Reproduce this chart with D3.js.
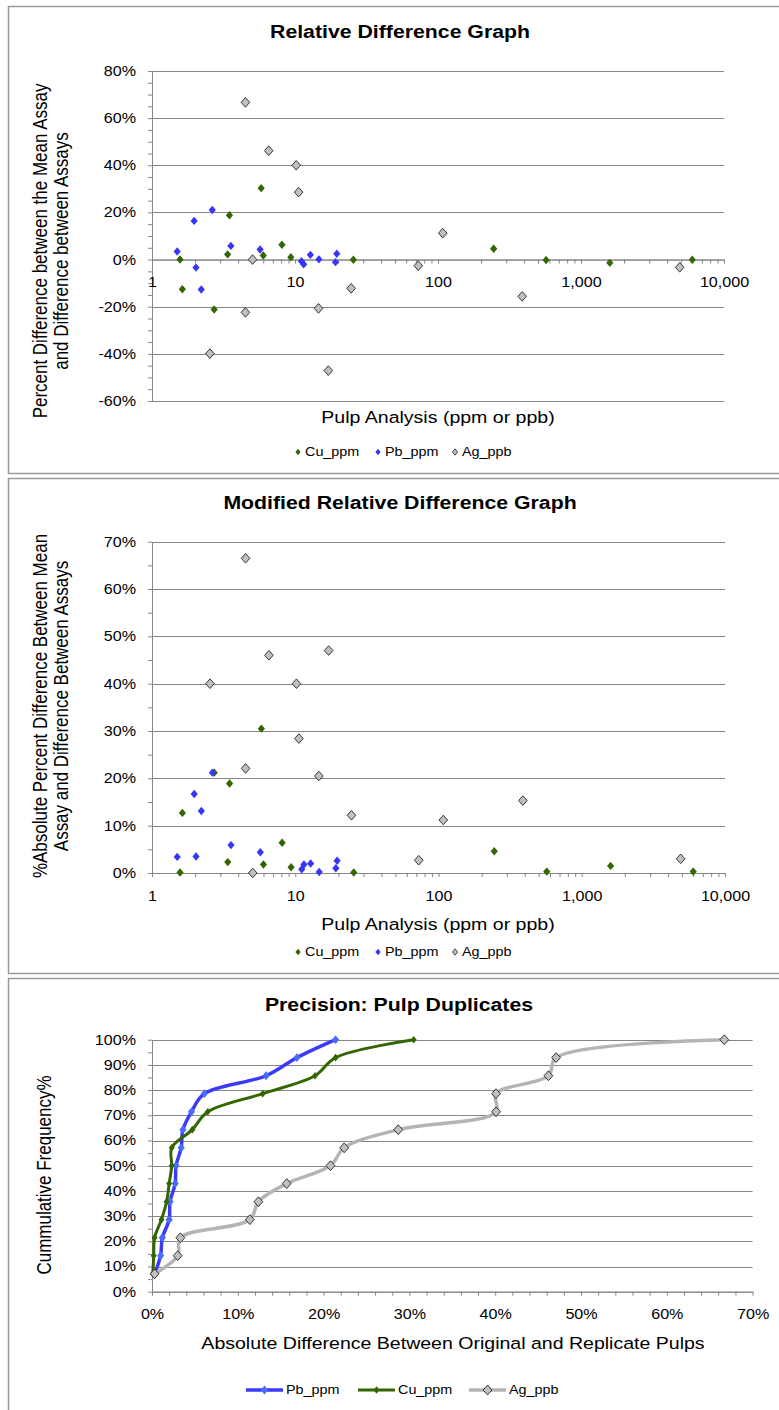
<!DOCTYPE html>
<html>
<head>
<meta charset="utf-8">
<script src="https://cdn.jsdelivr.net/npm/d3@7"></script>
<style>
  body { margin: 0; background: #fff; }
  svg { display: block; }
  text { font-family: "Liberation Sans", Arial, sans-serif; fill: #000; }
</style>
</head>
<body>
<svg id="chart"></svg>
<script>
// ---- data ----
const seriesNames = ["Cu_ppm", "Pb_ppm", "Ag_ppb"];

// pulp analysis values (x, log scale) shared by the two scatter graphs
const cuPulp = [1.57, 1.63, 2.72, 3.38, 3.48, 5.8, 6.0, 8.1, 9.35, 25.6, 245, 570, 1590, 6000];
const pbPulp = [1.50, 1.97, 2.03, 2.21, 2.64, 3.56, 5.70, 11.1, 11.5, 12.8, 14.7, 19.2, 19.6];
const agPulp = [2.54, 4.5, 4.5, 5.05, 6.55, 10.2, 10.6, 14.6, 17.1, 24.7, 72.8, 108, 388, 4900];

// relative difference (%)
const cuRelDiff = [0, -12.6, -21.2, 2.2, 18.8, 30.3, 1.7, 6.3, 1.0, -0.1, 4.6, -0.2, -1.4, -0.1];
const pbRelDiff = [3.4, 16.4, -3.4, -12.7, 21.0, 5.8, 4.3, -0.7, -2.0, 2.0, 0.1, -1.1, 2.5];
const agRelDiff = [-39.9, 66.7, -22.4, 0, 46.2, 40.0, 28.6, -20.7, -47.1, -12.2, -2.6, 11.2, -15.6, -3.3];

// absolute relative difference (%)
const cuAbsDiff = [0.1, 12.7, 21.2, 2.3, 18.9, 30.5, 1.8, 6.4, 1.2, 0.1, 4.6, 0.3, 1.5, 0.3];
const pbAbsDiff = [3.4, 16.7, 3.5, 13.1, 21.2, 5.9, 4.4, 0.8, 1.8, 2.0, 0.2, 1.0, 2.6];
const agAbsDiff = [40.0, 66.5, 22.1, 0, 46.0, 40.0, 28.4, 20.5, 47.0, 12.2, 2.7, 11.2, 15.3, 3.0];

// precision plot: cumulative frequency (%) vs absolute difference (%)
const cumFreq = [7.1, 14.3, 21.4, 28.6, 35.7, 42.9, 50, 57.1, 64.3, 71.4, 78.6, 85.7, 92.9, 100];
const pbCum = [0.3, 1.0, 1.2, 2.0, 2.1, 2.7, 2.8, 3.4, 3.6, 4.6, 6.1, 13.3, 16.9, 21.4];
const cuCum = [0.1, 0.2, 0.3, 1.1, 1.7, 2.0, 2.3, 2.3, 4.7, 6.5, 12.9, 19.0, 21.4, 30.5];
const agCum = [0.3, 3.0, 3.3, 11.4, 12.4, 15.7, 20.8, 22.4, 28.7, 40.1, 40.1, 46.2, 47.1, 66.7];

// ticks
const pulpTicks = [1, 10, 100, 1000, 10000];
const relTicks = [-60, -40, -20, 0, 20, 40, 60, 80];
const absTicks = [0, 10, 20, 30, 40, 50, 60, 70];
const cumYTicks = [0, 10, 20, 30, 40, 50, 60, 70, 80, 90, 100];
const cumXTicks = [0, 10, 20, 30, 40, 50, 60, 70];

// ---- drawing ----
const width = 779, height = 1410;
const SX = 1.15; // the reference text is a little stretched sideways
const GRID = "#868686";
const GREEN = "#336600", BLUE = "#3636f8", GREY = "#c0c0c0";

const svg = d3.select("#chart")
    .attr("width", width)
    .attr("height", height)
    .attr("viewBox", `0 0 ${width} ${height}`);

svg.append("rect").attr("width", width).attr("height", height).attr("fill", "#fff");

function label(g, x, y, s, size, opt = {}) {
  const t = g.append("text")
      .attr("transform", `translate(${x},${y}) scale(${SX},1)` + (opt.rotate ? " rotate(-90)" : ""))
      .attr("text-anchor", opt.anchor || "middle")
      .attr("dy", "0.35em")
      .style("font-size", size + "px")
      .text(s);
  if (opt.bold) t.style("font-weight", "bold");
  return t;
}

function diamond(w, h) {
  return `M0,${-h}L${w},0L0,${h}L${-w},0Z`;
}

function frame(y0, y1) {
  svg.append("rect")
      .attr("x", 8.5).attr("y", y0 + 0.5)
      .attr("width", 800).attr("height", y1 - y0)
      .attr("fill", "#fff")
      .attr("stroke", "#9a9a9a")
      .attr("stroke-width", 1.5);
}

function styleAxis(sel) {
  sel.attr("font-family", null).attr("font-size", null);
  sel.selectAll("line, path").attr("stroke", GRID);
}

function yAxis(g, y, x, major, minor, fmt) {
  g.append("g").attr("transform", `translate(${x},0)`)
      .call(d3.axisLeft(y).tickValues(minor).tickSize(4).tickSizeOuter(0).tickFormat(""))
      .call(styleAxis);
  g.append("g").attr("transform", `translate(${x},0)`)
      .call(d3.axisLeft(y).tickValues(major).tickSize(4).tickSizeOuter(0).tickFormat(fmt))
      .call(styleAxis)
      .call(a => a.selectAll("text")
          .attr("x", -16 / SX)
          .attr("transform", `scale(${SX},1)`)
          .style("font-size", "14px"));
}

function xAxis(g, x, yPos, major, minor, fmt) {
  g.append("g").attr("transform", `translate(0,${yPos})`)
      .call(d3.axisBottom(x).tickValues(minor).tickSize(4).tickSizeOuter(0).tickFormat(""))
      .call(styleAxis);
  g.append("g").attr("transform", `translate(0,${yPos})`)
      .call(d3.axisBottom(x).tickValues(major).tickSize(4).tickSizeOuter(0).tickFormat(fmt))
      .call(styleAxis)
      .call(a => a.selectAll("text")
          .attr("y", 17.6)
          .attr("transform", `scale(${SX},1)`)
          .style("font-size", "14px"));
}

function grid(g, x, y, values) {
  g.append("g").selectAll("line")
      .data(values)
      .enter().append("line")
      .attr("x1", x.range()[0]).attr("x2", x.range()[1])
      .attr("y1", d => Math.round(y(d)) + 0.5).attr("y2", d => Math.round(y(d)) + 0.5)
      .attr("stroke", GRID);
}

function logMinor() {
  const out = [];
  for (let p = 1; p < 10000; p *= 10)
    for (let k = 2; k <= 9; k++) out.push(p * k);
  return out;
}

const pct = d => d + "%";

function scatterMarks(g, x, y, xs, ys, kind) {
  const pts = xs.map((v, i) => [v, ys[i]]);
  const m = g.append("g").selectAll("path")
      .data(pts)
      .enter().append("path")
      .attr("transform", d => `translate(${x(d[0])},${y(d[1])})`);
  if (kind === 2) {
    m.attr("d", diamond(4.3, 4.8)).attr("fill", GREY).attr("stroke", "#222").attr("stroke-width", 0.9);
  } else {
    m.attr("d", diamond(3.6, 4.2)).attr("fill", kind === 0 ? GREEN : BLUE);
  }
}

function scatterLegend(g, yPos) {
  const items = [
    { x: 298, kind: 0 },
    { x: 378, kind: 1 },
    { x: 455, kind: 2 }
  ];
  items.forEach((it, i) => {
    const m = g.append("path").attr("transform", `translate(${it.x},${yPos})`);
    if (it.kind === 2) m.attr("d", diamond(2.6, 3.2)).attr("fill", GREY).attr("stroke", "#222").attr("stroke-width", 0.8);
    else m.attr("d", diamond(2.6, 3.2)).attr("fill", it.kind === 0 ? GREEN : BLUE);
    label(g, it.x + 7, yPos, seriesNames[i], 12.5, { anchor: "start" });
  });
}

// ================= Panel 1: Relative Difference Graph =================
frame(6, 473);
const g1 = svg.append("g");
const x1 = d3.scaleLog().domain([1, 10000]).range([152, 724]);
const y1 = d3.scaleLinear().domain([-60, 80]).range([401, 71]);

label(g1, 400, 32, "Relative Difference Graph", 18.5, { bold: true });
grid(g1, x1, y1, relTicks.filter(d => d !== 0));
yAxis(g1, y1, 152, relTicks, d3.range(-55, 80, 5).filter(d => d % 20 !== 0), pct);
xAxis(g1, x1, y1(0), pulpTicks, logMinor(), d3.format(","));
label(g1, 438, 417, "Pulp Analysis (ppm or ppb)", 17);
label(g1, 40, 251, "Percent Difference between the Mean Assay", 17, { rotate: true });
label(g1, 61, 251, "and Difference between Assays", 17, { rotate: true });

scatterMarks(g1, x1, y1, cuPulp, cuRelDiff, 0);
scatterMarks(g1, x1, y1, pbPulp, pbRelDiff, 1);
scatterMarks(g1, x1, y1, agPulp, agRelDiff, 2);
scatterLegend(g1, 452);

// ================= Panel 2: Modified Relative Difference Graph =================
frame(478, 973);
const g2 = svg.append("g");
const x2 = d3.scaleLog().domain([1, 10000]).range([152, 725]);
const y2 = d3.scaleLinear().domain([0, 70]).range([873, 541.7]);

label(g2, 400, 503, "Modified Relative Difference Graph", 18.5, { bold: true });
grid(g2, x2, y2, absTicks.filter(d => d !== 0));
yAxis(g2, y2, 152, absTicks, d3.range(5, 70, 10), pct);
xAxis(g2, x2, y2(0), pulpTicks, logMinor(), d3.format(","));
label(g2, 438, 924, "Pulp Analysis (ppm or ppb)", 17);
label(g2, 40, 706, "%Absolute Percent Difference Between Mean", 17, { rotate: true });
label(g2, 61, 706, "Assay and Difference Between Assays", 17, { rotate: true });

scatterMarks(g2, x2, y2, cuPulp, cuAbsDiff, 0);
scatterMarks(g2, x2, y2, pbPulp, pbAbsDiff, 1);
scatterMarks(g2, x2, y2, agPulp, agAbsDiff, 2);
scatterLegend(g2, 952);

// ================= Panel 3: Precision: Pulp Duplicates =================
frame(978, 1430);
const g3 = svg.append("g");
const x3 = d3.scaleLinear().domain([0, 70]).range([152, 752.6]);
const y3 = d3.scaleLinear().domain([0, 100]).range([1291.7, 1039.7]);

label(g3, 399, 1005, "Precision: Pulp Duplicates", 18.5, { bold: true });
grid(g3, x3, y3, cumYTicks.filter(d => d !== 0));
yAxis(g3, y3, 152, cumYTicks, d3.range(5, 100, 10), pct);
xAxis(g3, x3, y3(0), cumXTicks, d3.range(2, 70, 2).filter(d => d % 10 !== 0), pct);
label(g3, 453, 1343, "Absolute Difference Between Original and Replicate Pulps", 17);
label(g3, 44, 1175, "Cummulative Frequency%", 17, { rotate: true });

const cumSeries = [
  { name: "Pb_ppm", xs: pbCum, color: "#3a3af8", lw: 3.5, marker: diamond(3.6, 4.4), mfill: "#4a6cff", mstroke: null },
  { name: "Cu_ppm", xs: cuCum, color: GREEN, lw: 3, marker: diamond(3, 3.8), mfill: GREEN, mstroke: null },
  { name: "Ag_ppb", xs: agCum, color: "#b4b4b4", lw: 3.5, marker: diamond(4.4, 4.9), mfill: GREY, mstroke: "#222" }
];

const line3 = d3.line()
    .x(d => x3(d[0]))
    .y(d => y3(d[1]))
    .curve(d3.curveCatmullRom.alpha(0.5));

cumSeries.forEach(s => {
  const pts = s.xs.map((v, i) => [v, cumFreq[i]]);
  g3.append("path")
      .datum(pts)
      .attr("d", line3)
      .attr("fill", "none")
      .attr("stroke", s.color)
      .attr("stroke-width", s.lw)
      .attr("stroke-linejoin", "round");
  g3.append("g").selectAll("path")
      .data(pts)
      .enter().append("path")
      .attr("transform", d => `translate(${x3(d[0])},${y3(d[1])})`)
      .attr("d", s.marker)
      .attr("fill", s.mfill)
      .attr("stroke", s.mstroke)
      .attr("stroke-width", s.mstroke ? 0.9 : null);
});

// legend with line samples
const legX = [246, 358, 469];
cumSeries.forEach((s, i) => {
  const lx = legX[i], ly = 1390;
  g3.append("line")
      .attr("x1", lx).attr("x2", lx + 37)
      .attr("y1", ly).attr("y2", ly)
      .attr("stroke", s.color).attr("stroke-width", s.lw);
  g3.append("path")
      .attr("transform", `translate(${lx + 18.5},${ly})`)
      .attr("d", s.marker)
      .attr("fill", s.mfill)
      .attr("stroke", s.mstroke)
      .attr("stroke-width", s.mstroke ? 0.9 : null);
  label(g3, lx + 40, ly, s.name, 12.5, { anchor: "start" });
});
</script>
</body>
</html>
